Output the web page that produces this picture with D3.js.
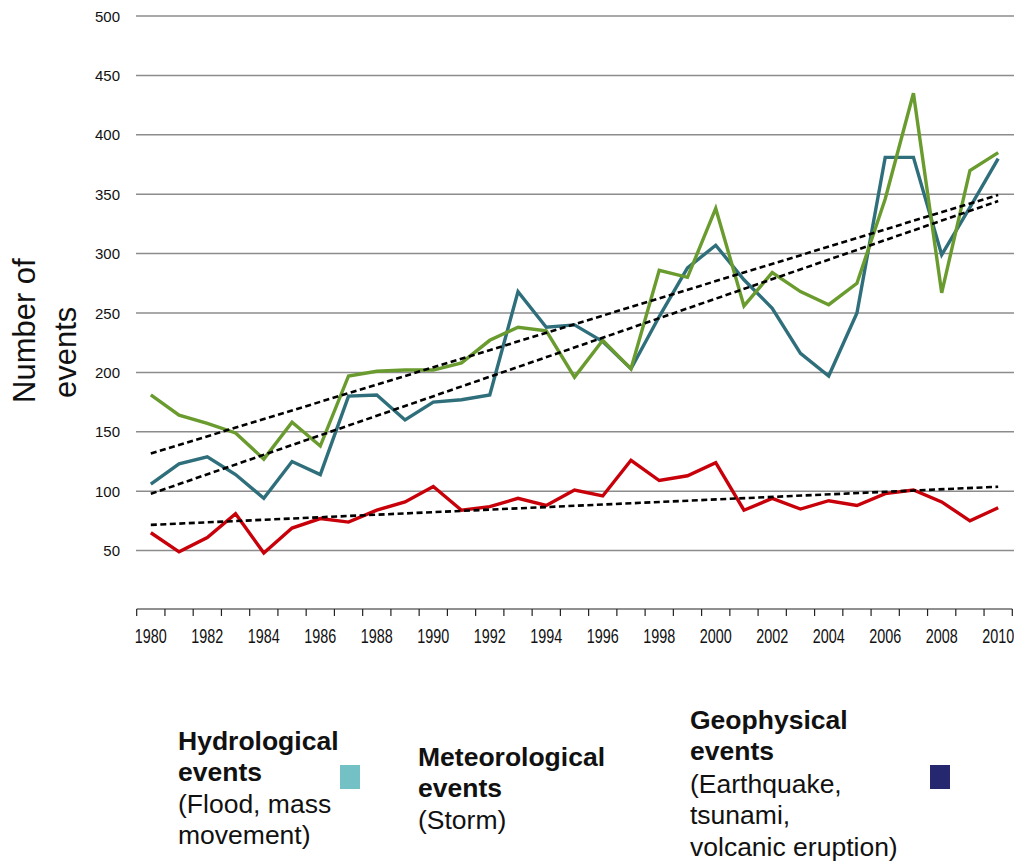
<!DOCTYPE html>
<html>
<head>
<meta charset="utf-8">
<script src="https://cdn.jsdelivr.net/npm/d3@7"></script>
<style>
  html, body { margin: 0; padding: 0; background: #fff; }
  svg { display: block; font-family: "Liberation Sans", Arial, sans-serif; }
</style>
</head>
<body>
<svg id="chart" width="1014" height="863"></svg>
<script>
const years = d3.range(1980, 2011);
const meteorological = [181,164,157,149,127,158,138,197,201,202,202,208,227,238,235,196,227,203,286,280,338,256,284,268,257,275,346,435,267,370,385];
const hydrological   = [106,123,129,114,94,125,114,180,181,160,175,177,181,268,238,240,226,203,247,288,307,278,254,216,197,250,381,381,299,339,380];
const geophysical    = [65,49,61,81,48,69,77,74,84,91,104,84,87,94,88,101,96,126,109,113,124,84,94,85,92,88,98,101,91,75,86];
const yTicks = [50,100,150,200,250,300,350,400,450,500];

const svg = d3.select("#chart");
const x = d3.scaleBand().domain(years).range([136.7, 1012.3]).padding(0);
const y = d3.scaleLinear().domain([0, 500]).range([610, 16]);
const cx = d => x(d) + x.bandwidth() / 2;

// gridlines
svg.append("g").selectAll("line").data(yTicks).join("line")
  .attr("x1", 136).attr("x2", 1014)
  .attr("y1", d => y(d)).attr("y2", d => y(d))
  .attr("stroke", "#8c8c8c").attr("stroke-width", 1.5);

// y labels
svg.append("g").selectAll("text").data(yTicks).join("text")
  .attr("x", 120).attr("y", d => y(d) + 5.5)
  .attr("text-anchor", "end").attr("font-size", 15).attr("fill", "#111")
  .text(d => d);

// x axis
const xAxis = svg.append("g").attr("transform", "translate(0,609)");
xAxis.append("line").attr("x1", 136.7).attr("x2", 1012.3).attr("y1", 0).attr("y2", 0)
  .attr("stroke", "#222").attr("stroke-width", 1.2);
const bounds = years.map(d => x(d)).concat([x(2010) + x.bandwidth()]);
xAxis.selectAll("line.tk").data(bounds).join("line").attr("class", "tk")
  .attr("x1", d => d).attr("x2", d => d).attr("y1", 0).attr("y2", 7)
  .attr("stroke", "#222").attr("stroke-width", 1.2);
xAxis.selectAll("text").data(years.filter(d => d % 2 === 0)).join("text")
  .attr("x", d => cx(d)).attr("y", 34)
  .attr("text-anchor", "middle").attr("font-size", 19.5).attr("fill", "#111")
  .attr("textLength", 32).attr("lengthAdjust", "spacingAndGlyphs")
  .text(d => d);

// y title
svg.append("text").attr("transform", "translate(35,403) rotate(-90)")
  .attr("font-size", 31).attr("fill", "#111").text("Number of");
svg.append("text").attr("transform", "translate(76,398) rotate(-90)")
  .attr("font-size", 31).attr("fill", "#111").text("events");

// series
const line = d3.line().x((d, i) => cx(years[i])).y(d => y(d));
const series = [
  {v: hydrological, c: "#2f6f7b"},
  {v: meteorological, c: "#6a9b2e"},
  {v: geophysical, c: "#c8000a"}
];
svg.append("g").selectAll("path").data(series).join("path")
  .attr("d", d => line(d.v)).attr("fill", "none")
  .attr("stroke", d => d.c).attr("stroke-width", 3.4).attr("stroke-linejoin", "miter");

// trend lines (least squares)
function fit(vals) {
  const n = vals.length, xs = d3.range(n);
  const mx = d3.mean(xs), my = d3.mean(vals);
  const b = d3.sum(xs, (xi, i) => (xi - mx) * (vals[i] - my)) / d3.sum(xs, xi => (xi - mx) ** 2);
  const a = my - b * mx;
  return [a, a + b * (n - 1)];
}
svg.append("g").selectAll("line").data(series).join("line")
  .each(function(d) {
    const [v0, v1] = fit(d.v);
    d3.select(this).attr("x1", cx(years[0])).attr("x2", cx(years[years.length - 1]))
      .attr("y1", y(v0)).attr("y2", y(v1));
  })
  .attr("stroke", "#000").attr("stroke-width", 2.6).attr("stroke-dasharray", "6,3.5");

// legend
const legend = svg.append("g").attr("fill", "#111").attr("font-size", 26.5);
function block(xp, lines) {
  lines.forEach(l => legend.append("text").attr("x", xp).attr("y", l[1])
    .attr("font-weight", l[2] ? "bold" : "normal").text(l[0]));
}
block(178, [["Hydrological", 750, true], ["events", 781, true], ["(Flood, mass", 813], ["movement)", 844]]);
block(418, [["Meteorological", 766, true], ["events", 797, true], ["(Storm)", 829]]);
block(690, [["Geophysical", 729, true], ["events", 760, true], ["(Earthquake,", 793], ["tsunami,", 824], ["volcanic eruption)", 856]]);
svg.append("rect").attr("x", 340).attr("y", 765).attr("width", 20).attr("height", 24).attr("fill", "#74c1c5");
svg.append("rect").attr("x", 930).attr("y", 765).attr("width", 20).attr("height", 24).attr("fill", "#25286e");
</script>
</body>
</html>
